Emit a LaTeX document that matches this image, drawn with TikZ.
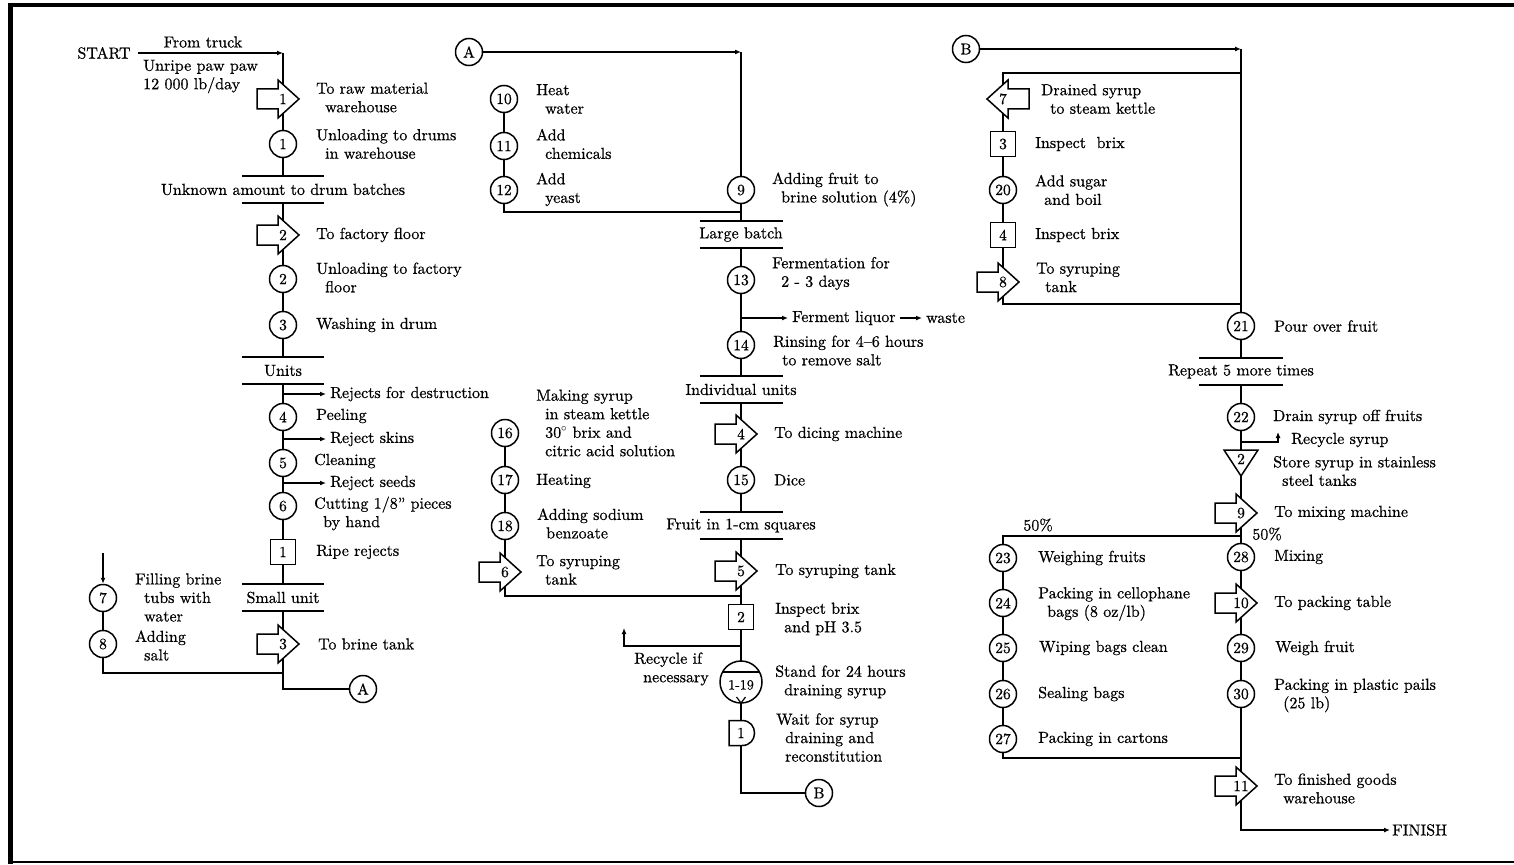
\documentclass[tikz,border=0pt]{standalone}
\usepackage{fontspec}
\setmainfont{lmroman10-regular.otf}[FakeBold=0.6]
\usetikzlibrary{arrows.meta}
\pgfdeclarelayer{bg}
\pgfsetlayers{bg,main}
\newcommand\ind{\hspace*{9pt}}
\tikzset{
 cn/.style={line width=1.5pt},
 tip/.style={-{Latex[length=6pt,width=5pt]}},
 shp/.style={draw, fill=white, line width=1.5pt, line join=miter},
 num/.style={font=\fontsize{15.5}{15.5}\selectfont, inner sep=0pt},
 op/.style={circle, draw, fill=white, line width=1.5pt, minimum size=27pt, inner sep=0pt, font=\fontsize{15.5}{15.5}\selectfont},
 insp/.style={rectangle, draw, fill=white, line width=1.5pt, minimum size=25pt, inner sep=0pt, font=\fontsize{15.5}{15.5}\selectfont},
 ptr/.style={circle, draw, fill=white, line width=1.5pt, minimum size=27pt, inner sep=0pt, font=\fontsize{15.5}{15.5}\selectfont},
 lb/.style={anchor=west, align=left, inner sep=0pt, font=\fontsize{16}{18.5}\selectfont},
 bt/.style={inner sep=0pt, font=\fontsize{16}{18.5}\selectfont},
}
\newcommand\tra[4]{%
 \filldraw[shp] (#2-26,#3-10) -- (#2-5,#3-10) -- (#2-5,#3-19) -- (#2+16,#3) -- (#2-5,#3+19) -- (#2-5,#3+10) -- (#2-26,#3+10) -- cycle;
 \node[num] (#1) at (#2,#3) {#4};}
\newcommand\tral[4]{%
 \filldraw[shp] (#2+26,#3-10) -- (#2+5,#3-10) -- (#2+5,#3-19) -- (#2-16,#3) -- (#2+5,#3+19) -- (#2+5,#3+10) -- (#2+26,#3+10) -- cycle;
 \node[num] (#1) at (#2,#3) {#4};}
\newcommand\sepbar[6]{%
 \coordinate (#1-t) at (#2,#3);
 \coordinate (#1-b) at (#2,#4);
 \draw[cn] (#2-#5,#3) -- (#2+#5,#3);
 \draw[cn] (#2-#5,#4) -- (#2+#5,#4);
 \node[bt] (#1) at (#2,{(#3+#4)/2}) {#6};}
\begin{document}
\begin{tikzpicture}[x=1pt,y=-1pt]
\useasboundingbox (0,0) rectangle (1514,864);
% border
\draw[line width=4pt] (8,5) -- (1514,5);
\draw[line width=5pt] (10,3) -- (10,864);
\draw[line width=1.5pt] (10,862) -- (1514,862);

% ---------------- LEFT COLUMN ----------------
\node[bt] (start) at (104,53) {START};
\coordinate (c0) at (283,53);
\node[bt] (truck) at (203,42) {From truck};
\node[lb] (unripe) at (143,76.5) {Unripe paw paw\\12 000 lb/day};
\tra{t1}{283}{99}{1}
\node[lb] (lt1) at (316,97.5) {To raw material\\\ind warehouse};
\node[op] (o1) at (283,144) {1};
\node[lb] (lo1) at (316,144) {Unloading to drums\\\ind in warehouse};
\sepbar{u1}{283}{176}{203}{41}{Unknown amount to drum batches}
\tra{t2}{283}{235}{2}
\node[lb] (lt2) at (316,235) {To factory floor};
\node[op] (o2) at (283,279) {2};
\node[lb] (lo2) at (316,277.5) {Unloading to factory\\\ind floor};
\node[op] (o3) at (283,325) {3};
\node[lb] (lo3) at (316,325) {Washing in drum};
\sepbar{u2}{283}{357}{384}{41}{Units}
\coordinate (r1) at (283,394);
\node[lb] (rj1) at (330,394) {Rejects for destruction};
\node[op] (o4) at (283,417) {4};
\node[lb] (lo4) at (316,416) {Peeling};
\coordinate (r2) at (283,439);
\node[lb] (rj2) at (330,439) {Reject skins};
\node[op] (o5) at (283,463) {5};
\node[lb] (lo5) at (314,461) {Cleaning};
\coordinate (r3) at (283,483);
\node[lb] (rj3) at (330,483) {Reject seeds};
\node[op] (o6) at (283,506) {6};
\node[lb] (lo6) at (314,513.5) {Cutting 1/8'' pieces\\\ind by hand};
\node[insp] (i1) at (283,552) {1};
\node[lb] (li1) at (316,552) {Ripe rejects};
\sepbar{u3}{283}{584}{611}{41}{Small unit}
\tra{t3}{283}{644}{3}
\node[lb] (lt3) at (318,644) {To brine tank};
\coordinate (j1) at (283,673);
\node[ptr] (A1) at (363,689) {A};
\coordinate (in7) at (103,553);
\node[op] (o7) at (103,598) {7};
\node[op] (o8) at (103,644) {8};
\node[lb] (lo7) at (135,597.5) {Filling brine\\\ind tubs with\\\ind water};
\node[lb] (lo8) at (135,645.5) {Adding\\\ind salt};

% ---------------- MIDDLE COLUMN ----------------
\node[ptr] (A2) at (469,52) {A};
\coordinate (c1) at (741,52);
\node[op] (o10) at (504,99) {10};
\node[op] (o11) at (504,146) {11};
\node[op] (o12) at (504,190) {12};
\node[lb] (lo10) at (536,99) {Heat\\\ind water};
\node[lb] (lo11) at (536,144) {Add\\\ind chemicals};
\node[lb] (lo12) at (536,189.5) {Add\\\ind yeast};
\node[op] (o9) at (741,190) {9};
\node[lb] (lo9) at (772,189.5) {Adding fruit to\\\ind brine solution (4\%)};
\coordinate (j3) at (741,212);
\sepbar{lbt}{741}{221}{248}{41.5}{Large batch}
\node[op] (o13) at (741,280) {13};
\node[lb] (lo13) at (772,273.5) {Fermentation for\\\ind 2 - 3 days};
\coordinate (r4) at (741,318);
\node[lb] (fl) at (792,318) {Ferment liquor};
\node[lb] (ws) at (926,318) {waste};
\node[op] (o14) at (741,345) {14};
\node[lb] (lo14) at (773,350.5) {Rinsing for 4--6 hours\\\ind to remove salt};
\sepbar{iu}{741}{376}{403}{41.5}{Individual units}
\tra{t4}{741}{434}{4}
\node[lb] (lt4) at (774,434) {To dicing machine};
\node[op] (o15) at (741,480) {15};
\node[lb] (lo15) at (774,480) {Dice};
\sepbar{fs}{741}{512}{539}{41.5}{Fruit in 1-cm squares}
\tra{t5}{741}{571}{5}
\node[lb] (lt5) at (775,571) {To syruping tank};
\node[op] (o16) at (505,433) {16};
\node[op] (o17) at (505,480) {17};
\node[op] (o18) at (505,526) {18};
\tra{t6}{505}{572}{6}
\node[lb] (lo16) at (536,423) {Making syrup\\\ind in steam kettle\\\ind 30$^\circ$ brix and\\\ind citric acid solution};
\node[lb] (lo17) at (536,481) {Heating};
\node[lb] (lo18) at (537,523.5) {Adding sodium\\\ind benzoate};
\node[lb] (lt6) at (536,570) {To syruping\\\ind tank};
\coordinate (j4) at (741,596);
\node[insp] (i2) at (741,617) {2};
\node[lb] (li2) at (775,619) {Inspect brix\\\ind and pH 3.5};
\coordinate (r5) at (741,646);
\coordinate (r5e) at (624,628);
\node[lb] (lrc) at (634,669) {Recycle if\\\ind necessary};
\node[circle, draw, fill=white, line width=1.5pt, minimum size=42pt, inner sep=0pt] (cs) at (741,682) {};
\draw[cn] ([shift={(-18.5,-10)}]cs.center) -- ([shift={(18.5,-10)}]cs.center);
\draw[line width=1.2pt] ([shift={(-4.5,15)}]cs.center) -- ([shift={(0,21)}]cs.center) -- ([shift={(4.5,15)}]cs.center);
\node[num, font=\fontsize{14}{14}\selectfont] (cst) at (741,685) {1-19};
\node[lb] (lcs) at (775,682) {Stand for 24 hours\\\ind draining syrup};
\filldraw[shp] (729,720.5) -- (742,720.5) .. controls (758.7,720.5) and (758.7,745.5) .. (742,745.5) -- (729,745.5) -- cycle;
\node[num] (d1) at (741,733) {1};
\node[lb] (ld1) at (776,737.5) {Wait for syrup\\\ind draining and\\\ind reconstitution};
\node[ptr] (B1) at (819,793) {B};

% ---------------- RIGHT COLUMN ----------------
\node[ptr] (B2) at (966,49) {B};
\coordinate (c2) at (1241,49);
\coordinate (ltop) at (1241,73);
\coordinate (lbot) at (1241,304);
\tral{t7}{1003}{99}{7}
\node[lb] (lt7) at (1041,99) {Drained syrup\\\ind to steam kettle};
\node[insp] (i3) at (1003,144) {3};
\node[lb] (li3) at (1035,144) {Inspect\ \ brix};
\node[op] (o20) at (1003,190) {20};
\node[lb] (lo20) at (1035,190) {Add sugar\\\ind and boil};
\node[insp] (i4) at (1003,235) {4};
\node[lb] (li4) at (1035,235) {Inspect brix};
\tra{t8}{1003}{282}{8}
\node[lb] (lt8) at (1036,277.5) {To syruping\\\ind tank};
\node[op] (o21) at (1241,326) {21};
\node[lb] (lo21) at (1274,326) {Pour over fruit};
\sepbar{rp}{1241}{358}{385}{42}{Repeat 5 more times}
\node[op] (o22) at (1241,417) {22};
\node[lb] (lo22) at (1273,417) {Drain syrup off fruits};
\coordinate (r6) at (1241,442);
\coordinate (r6e) at (1278,432);
\node[lb] (lrs) at (1291,440) {Recycle syrup};
\filldraw[shp] (1224,450) -- (1258,450) -- (1241,476) -- cycle;
\node[num] (s2) at (1241,459) {2};
\node[lb] (ls2) at (1273,471) {Store syrup in stainless\\\ind steel tanks};
\tra{t9}{1241}{513}{9}
\node[lb] (lt9) at (1274,513) {To mixing machine};
\coordinate (sp) at (1241,536);
\node[bt] (p1) at (1038,525) {50\%};
\node[bt] (p2) at (1267,534) {50\%};
\node[op] (o23) at (1003,558) {23};
\node[op] (o24) at (1003,603) {24};
\node[op] (o25) at (1003,648) {25};
\node[op] (o26) at (1003,694) {26};
\node[op] (o27) at (1003,739) {27};
\node[lb] (lo23) at (1038,558) {Weighing fruits};
\node[lb] (lo24) at (1038,604) {Packing in cellophane\\\ind bags (8 oz/lb)};
\node[lb] (lo25) at (1039,648) {Wiping bags clean};
\node[lb] (lo26) at (1038,694) {Sealing bags};
\node[lb] (lo27) at (1038,739) {Packing in cartons};
\node[op] (o28) at (1241,557) {28};
\tra{t10}{1241}{603}{10}
\node[op] (o29) at (1241,648) {29};
\node[op] (o30) at (1241,694) {30};
\node[lb] (lo28) at (1274,557) {Mixing};
\node[lb] (lt10) at (1274,603) {To packing table};
\node[lb] (lo29) at (1275,648) {Weigh fruit};
\node[lb] (lo30) at (1274,695.5) {Packing in plastic pails\\\ind (25 lb)};
\coordinate (jn) at (1241,758);
\tra{t11}{1241}{786}{11}
\node[lb] (lt11) at (1274,788.5) {To finished goods\\\ind warehouse};
\node[lb] (fin) at (1392,830) {FINISH};

% ---------------- CONNECTORS ----------------
\begin{pgfonlayer}{bg}
\draw[cn,tip,shorten <=7pt] (start) -- (c0);
\draw[cn] (c0) -- (t1.center) -- (o1.center) -- (u1-t);
\draw[cn] (u1-b) -- (t2.center) -- (o2.center) -- (o3.center) -- (u2-t);
\draw[cn] (u2-b) -- (o4.center) -- (o5.center) -- (o6.center) -- (i1.center) -- (u3-t);
\draw[cn] (u3-b) -- (t3.center);
\draw[cn] (t3.center) |- (A1);
\draw[cn,tip] (r1) -- ([xshift=-4pt]rj1.west);
\draw[cn,tip] (r2) -- ([xshift=-4pt]rj2.west);
\draw[cn,tip] (r3) -- ([xshift=-4pt]rj3.west);
\draw[cn,tip] (in7) -- (o7);
\draw[cn] (o7.center) -- (o8.center);
\draw[cn] (o8.center) |- (j1);

\draw[cn,tip] (A2) -- (c1);
\draw[cn] (c1) -- (o9.center);
\draw[cn] (o10.center) -- (o11.center) -- (o12.center);
\draw[cn] (o12.center) |- (j3);
\draw[cn] (o9.center) -- (lbt-t);
\draw[cn] (lbt-b) -- (o13.center) -- (o14.center) -- (iu-t);
\draw[cn,tip] (r4) -- ([xshift=-4pt]fl.west);
\draw[cn,tip] ([xshift=4pt]fl.east) -- ([xshift=-4pt]ws.west);
\draw[cn] (iu-b) -- (t4.center) -- (o15.center) -- (fs-t);
\draw[cn] (fs-b) -- (t5.center) -- (i2.center) -- (cs.center) -- (d1.center);
\draw[cn] (o16.center) -- (o17.center) -- (o18.center) -- (t6.center);
\draw[cn] (t6.center) |- (j4);
\draw[cn,tip] (r5) -| (r5e);
\draw[cn] (d1.center) |- (B1);

\draw[cn,tip] (B2) -- (c2);
\draw[cn] (c2) -- (o21.center);
\draw[cn] (ltop) -| (t7.center);
\draw[cn] (t7.center) -- (i3.center) -- (o20.center) -- (i4.center) -- (t8.center);
\draw[cn] (t8.center) |- (lbot);
\draw[cn] (o21.center) -- (rp-t);
\draw[cn] (rp-b) -- (o22.center) -- (s2.center) -- (t9.center) -- (o28.center) -- (t10.center) -- (o29.center) -- (o30.center) -- (t11.center);
\draw[cn,tip] (r6) -| (r6e);
\draw[cn] (sp) -| (o23.center);
\draw[cn] (o23.center) -- (o24.center) -- (o25.center) -- (o26.center) -- (o27.center);
\draw[cn] (o27.center) |- (jn);
\draw[cn,tip] (t11.center) |- ([xshift=-2pt]fin.west);
\end{pgfonlayer}
\end{tikzpicture}
\end{document}
